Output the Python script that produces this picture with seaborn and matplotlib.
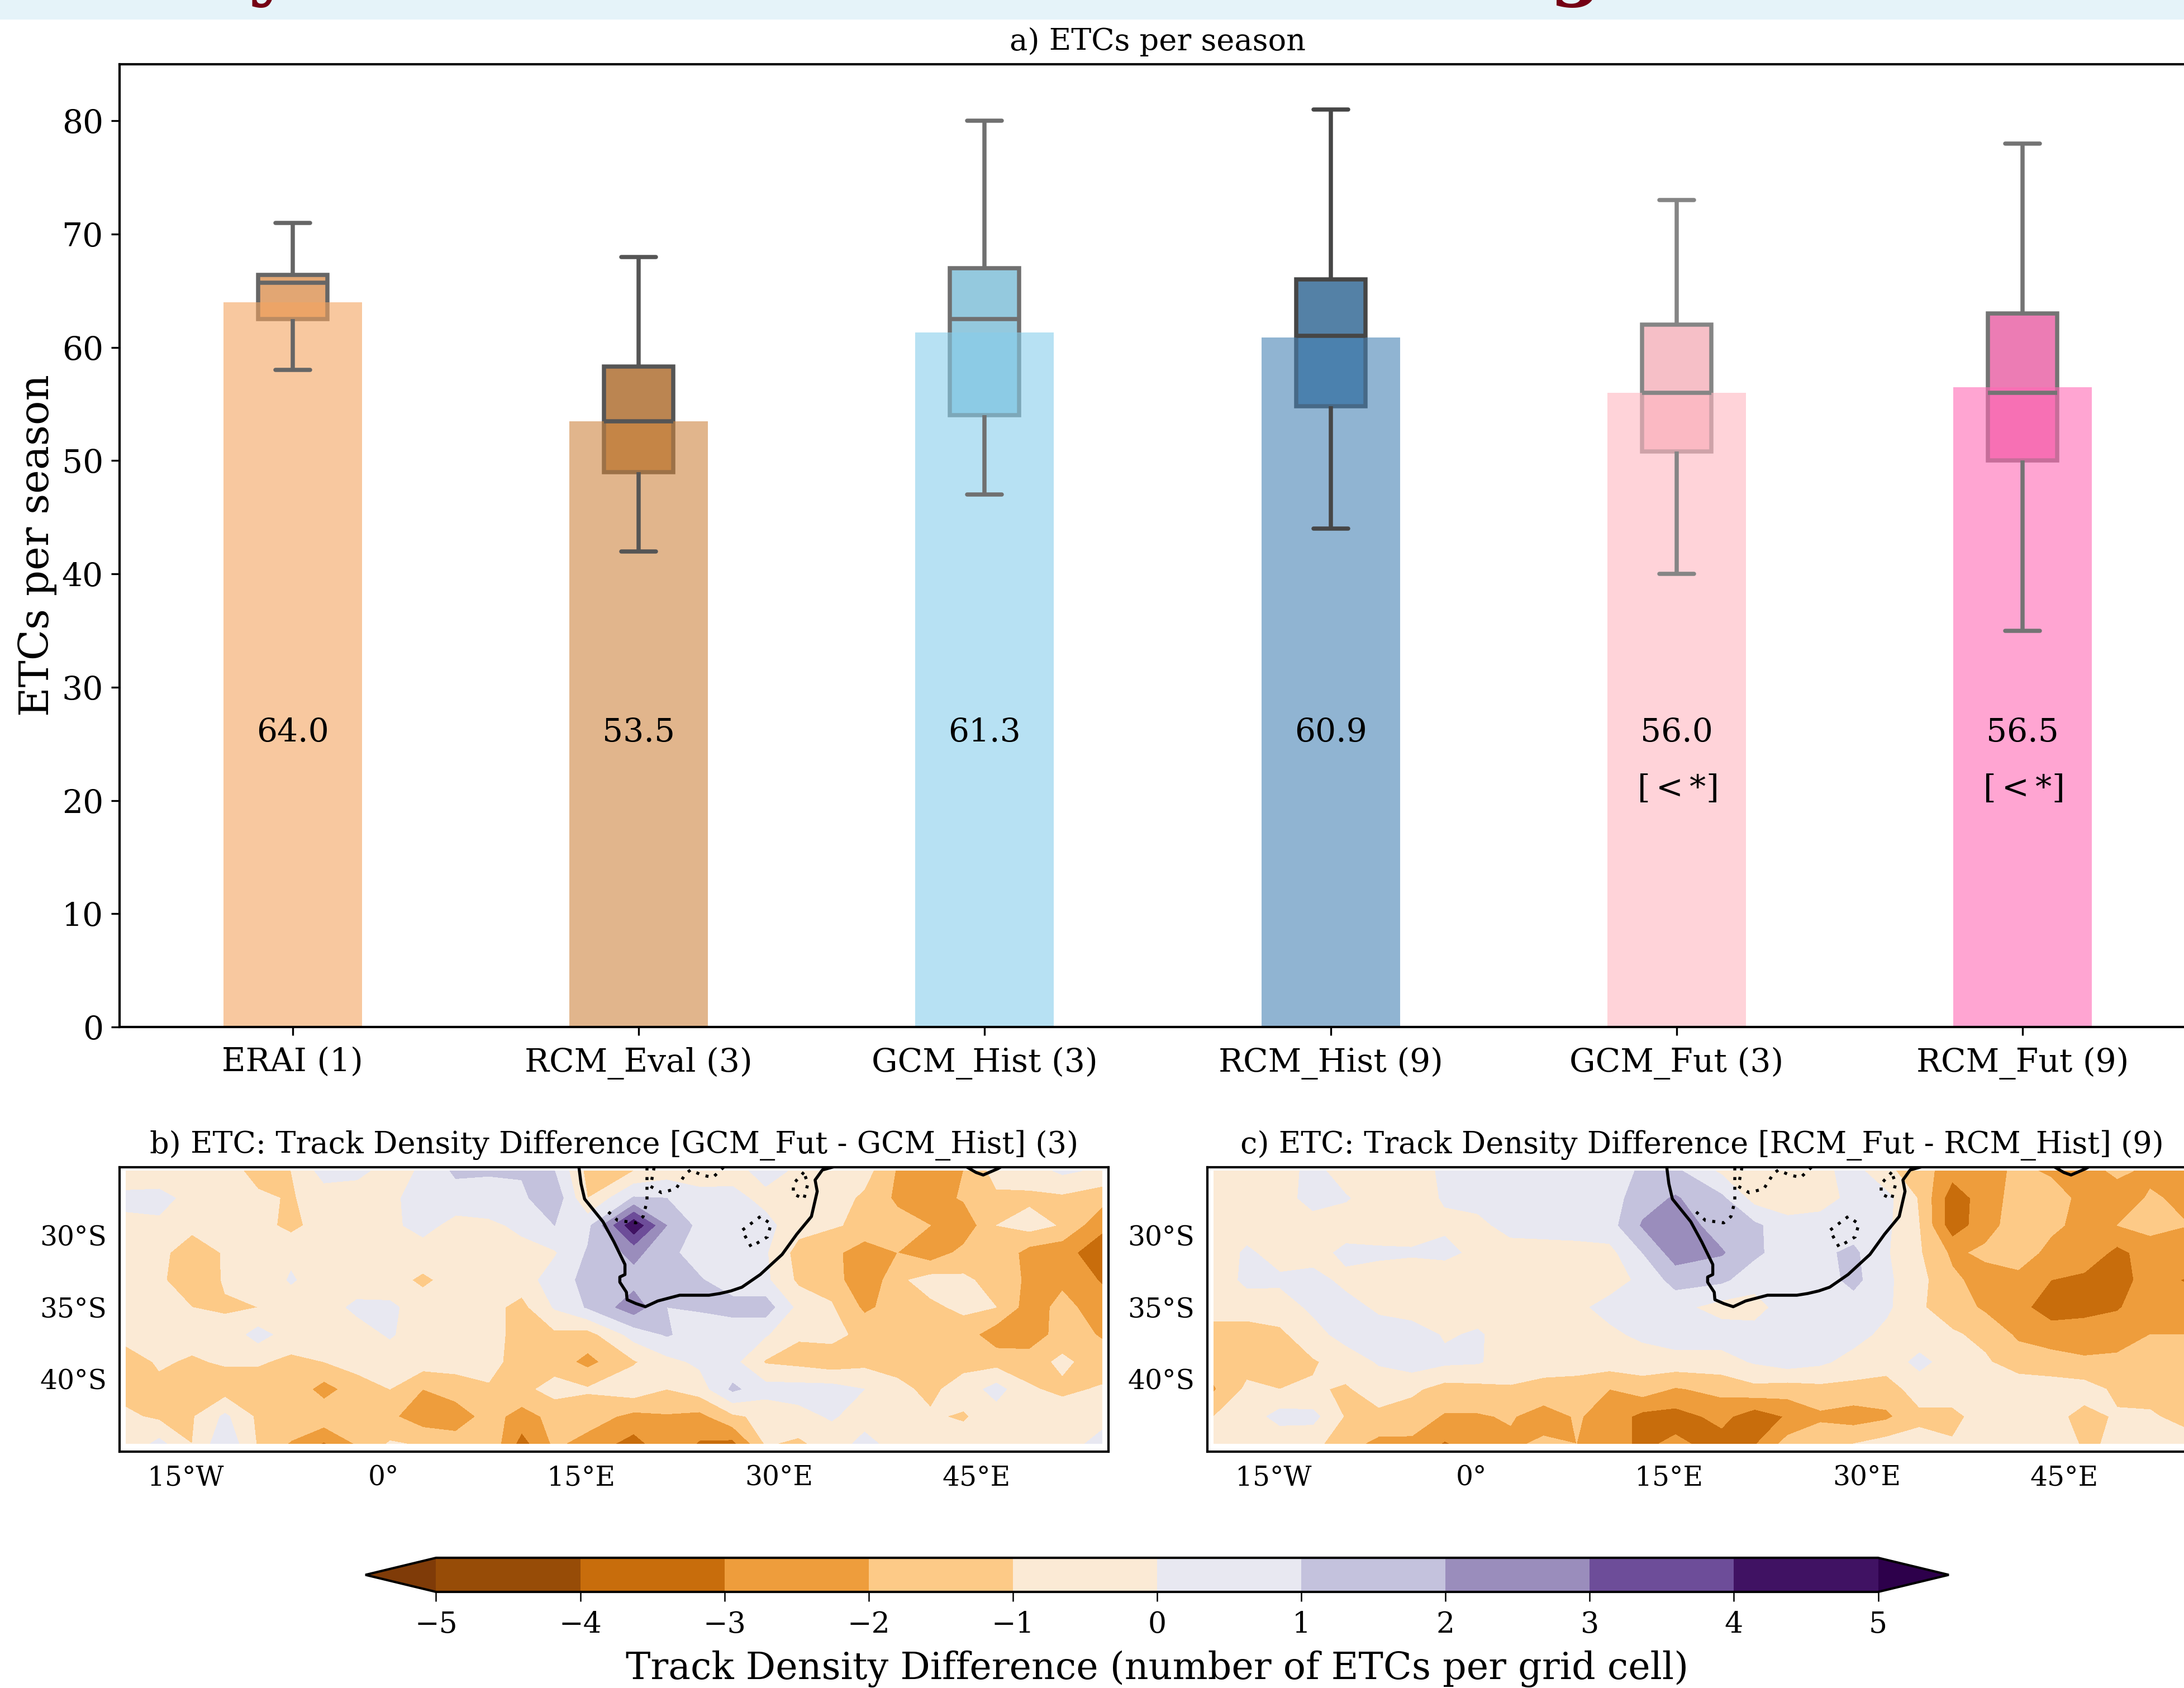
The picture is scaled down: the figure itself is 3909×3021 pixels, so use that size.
import numpy as np
import pandas as pd
import seaborn as sns
import matplotlib.pyplot as plt
from matplotlib.patches import Rectangle

# bar + box panel
runs = ['ERAI (1)', 'RCM_Eval (3)', 'GCM_Hist (3)', 'RCM_Hist (9)', 'GCM_Fut (3)', 'RCM_Fut (9)']
means = [64.0, 53.5, 61.3, 60.9, 56.0, 56.5]
mean_labels = ['64.0', '53.5', '61.3', '60.9', '56.0', '56.5']
sig_labels = ['', '', '', '', '[$<$*]', '[$<$*]']
run_colors = ['sandybrown', 'peru', 'skyblue', 'steelblue', 'lightpink', 'hotpink']
box_edges = ['#666666', '#555555', '#707070', '#464646', '#858585', '#747474']

# min, q1, median, q3, max
erai_box = [58, 62.5, 65.7, 66.4, 71]
rcm_eval_box = [42, 49, 53.5, 58.3, 68]
gcm_hist_box = [47, 54, 62.5, 67, 80]
rcm_hist_box = [44, 54.8, 61, 66, 81]
gcm_fut_box = [40, 50.8, 56, 62, 73]
rcm_fut_box = [35, 50, 56, 63, 78]
box_values = [erai_box, rcm_eval_box, gcm_hist_box, rcm_hist_box, gcm_fut_box, rcm_fut_box]

# map panels, values
lons = [-19.5, -17, -14.5, -12, -9.5, -7, -4.5, -2, 0.5, 3, 5.5, 8, 10.5, 13, 15.5,
        19, 21.5, 24, 26.5, 29, 31.5, 34, 36.5, 39, 41.5, 44, 46.5, 49, 51.5, 54.5]
lats = [-25.5, -27.4, -29.3, -31.2, -33.1, -35.0, -36.9, -38.8, -40.7, -42.6, -44.5]

gcm_diff = np.array([
    [-0.5, -1.0, -0.5, -0.5, -1.4, -1.0, 0.4, 0.2, -0.3, 0.1, 1.2, 1.1, 1.1, 1.0, -1.3, -1.0, -0.5, -0.6, -0.4, 0.4, -0.2, -0.5, -0.6, -2.1, -2.8, -2.0, -0.6, -0.5, 0.2, -0.2],
    [0.2, 0.5, -0.5, -0.6, -0.8, -1.1, -0.5, -0.4, -0.2, 0.4, 0.5, 0.6, 0.8, 1.7, -1.0, 1.1, 1.0, 0.4, 0.3, -0.3, -0.5, -0.5, -1.2, -2.2, -2.4, -1.9, -1.2, -1.2, -1.2, -1.6],
    [-0.2, -0.3, -0.7, -0.6, -0.6, -1.3, -0.5, -0.5, -0.2, 0.3, -0.3, -0.2, 0.2, 1.0, 0.7, 4.8, 2.0, 0.7, 0.5, 0.3, -0.6, -0.9, -1.2, -1.6, -2.0, -2.7, -1.0, -0.6, -1.1, -2.8],
    [-0.6, -0.7, -1.6, -0.9, -0.6, -0.2, -0.5, -0.5, -0.5, -0.4, -0.5, -0.5, -0.3, -0.1, 1.1, 2.3, 1.3, 0.5, 0.4, 0.1, -1.4, -1.7, -2.6, -2.0, -2.6, -1.7, -1.2, -2.4, -2.7, -3.5],
    [-0.6, -0.8, -1.7, -0.9, -0.7, 0.1, -0.5, -0.5, -0.6, -1.2, -0.6, -0.5, -0.5, 0.5, 1.3, 1.6, 1.1, 1.1, 0.4, 0.2, -1.2, -1.4, -3.0, -1.2, -0.6, -0.8, -1.4, -2.2, -2.2, -3.1],
    [-0.6, -0.8, -1.0, -1.1, -1.0, -0.5, -0.4, 0.2, 0.2, -0.5, -0.5, -0.7, -1.3, 0.1, 1.1, 2.6, 1.0, 1.1, 1.4, 1.5, -0.3, -0.9, -2.2, -1.6, -1.2, -0.8, -1.0, -2.5, -1.7, -2.5],
    [-0.7, -0.5, -0.7, -0.7, 0.4, -0.5, -0.5, -0.4, 0.1, -0.5, -0.6, -0.7, -1.3, -1.2, -1.4, 0.4, 1.1, 0.5, 0.3, 0.1, -0.9, -0.7, -1.3, -1.6, -1.4, -1.5, -2.6, -2.7, -1.5, -2.1],
    [-1.4, -0.9, -1.1, -0.9, -0.9, -1.2, -1.0, -0.6, -0.5, -0.5, -0.6, -0.7, -1.4, -1.5, -2.3, -1.1, -0.3, 0.2, 0.3, -1.1, -1.3, -1.6, -1.3, -1.3, -1.4, -1.3, -1.4, -1.4, -0.8, -1.5],
    [-1.4, -1.2, -1.7, -1.5, -1.5, -1.3, -2.4, -1.5, -1.0, -2.0, -1.5, -1.1, -1.3, -0.6, -0.9, -0.4, -1.0, -0.5, 1.2, 0.4, 0.4, 0.4, 0.0, -0.8, -1.2, -0.6, 0.4, -0.9, -1.2, -0.9],
    [-0.8, -1.2, -1.1, 0.2, -1.2, -1.2, -1.3, -1.5, -1.8, -2.6, -2.6, -1.6, -2.4, -1.7, -1.5, -2.3, -2.1, -2.3, -1.2, -0.7, -0.3, 0.1, -0.4, -0.6, -0.9, -1.1, -0.5, -0.4, -0.5, -0.3],
    [-0.8, 0.3, -1.0, 0.8, -1.1, -2.1, -3.1, -1.9, -0.9, -1.1, -1.5, -1.2, -3.4, -1.8, -2.4, -3.4, -2.3, -3.1, -3.3, -0.9, -1.2, -0.5, 0.3, -0.4, -0.5, -0.6, -0.5, -0.5, -0.4, 0.3],
])

rcm_diff = np.array([
    [-0.7, -0.7, -0.6, 0.4, -0.6, -0.5, -0.5, 0.2, 0.4, 0.5, 0.5, 0.4, 0.0, 1.3, 1.2, -0.2, -0.5, -0.8, -0.3, 0.4, -0.8, -1.5, -2.6, -2.6, -1.7, -2.2, -2.4, -1.8, -2.2, -2.4],
    [-0.7, -0.7, -0.7, 0.6, 0.1, -0.6, -0.5, 0.1, 0.4, 0.5, 0.9, 0.4, 0.5, 1.6, 2.1, 1.2, -0.4, -0.7, -0.6, 0.4, 0.3, -1.1, -3.6, -2.5, -1.6, -1.4, -2.4, -2.5, -1.9, -2.2],
    [-0.7, -0.6, -0.7, -0.7, -0.6, -0.6, -0.4, -0.2, -0.3, 0.4, 0.5, 0.5, 0.6, 2.1, 2.6, 1.5, 1.2, 0.4, 0.6, 0.5, 0.2, -1.0, -3.6, -2.4, -1.5, -1.8, -2.3, -2.0, -1.7, -2.0],
    [-0.8, 0.2, -0.5, -0.5, 0.3, 0.2, 0.1, 0.3, -0.3, -0.5, -0.5, -0.4, -0.3, 1.0, 2.5, 2.1, 1.2, 0.5, 0.8, 1.2, 0.1, -0.9, -2.2, -1.8, -1.5, -2.3, -2.2, -3.3, -2.5, -2.2],
    [-0.8, 0.3, 0.2, 0.4, -0.3, -0.5, -0.5, -0.8, -0.5, -0.5, -0.5, -0.5, -0.4, 0.2, 1.4, 1.2, 0.4, 0.4, 0.5, 1.3, 0.2, -0.7, -1.8, -2.4, -2.3, -3.0, -3.3, -3.3, -2.7, -3.1],
    [-0.8, -0.7, -0.5, 0.2, 0.4, -0.2, -0.5, -0.5, -0.4, -0.4, -0.2, -0.2, 0.3, 0.4, 0.3, -0.4, -0.4, 0.5, 0.5, 0.5, 0.2, -0.9, -1.4, -2.2, -2.7, -3.5, -3.2, -3.1, -2.4, -2.6],
    [-1.2, -1.3, -1.2, -0.4, 0.4, 0.5, 0.5, -0.1, 0.1, -0.4, -0.4, -0.4, -0.2, 0.2, 0.5, 0.5, 0.4, 0.4, 0.5, 0.4, -0.3, -0.6, -0.9, -1.2, -2.2, -2.5, -2.7, -2.4, -2.0, -2.0],
    [-1.5, -1.4, -1.4, -1.1, -0.6, 0.1, 0.5, 0.2, 0.1, -0.5, -0.6, -0.6, -0.5, -0.5, -0.4, -0.4, 0.1, 0.5, 0.2, -0.4, -0.6, 0.3, -0.5, -0.9, -1.4, -1.6, -1.8, -1.8, -1.6, -1.6],
    [-2.1, -0.8, -1.0, -0.9, -1.1, -0.6, -0.8, -1.4, -1.3, -1.1, -1.3, -1.4, -2.0, -1.5, -2.1, -1.7, -1.3, -1.5, -1.3, -1.3, -1.4, -0.6, -0.4, -0.5, -0.5, -0.5, -0.6, -1.2, -1.3, -1.2],
    [-1.0, -0.6, 0.4, 0.3, -1.1, -1.2, -1.5, -2.1, -2.1, -1.9, -2.5, -1.9, -2.4, -3.3, -3.4, -2.7, -3.6, -2.9, -2.2, -2.5, -2.2, -1.2, -1.3, -0.5, -0.6, -0.7, -1.3, -0.9, -0.9, -1.3],
    [-0.7, -0.6, -0.8, -0.7, -1.6, -2.3, -2.2, -3.1, -2.5, -2.2, -1.8, -2.0, -2.6, -3.2, -2.8, -3.4, -3.1, -1.6, -1.3, -1.0, -0.6, -0.7, -0.9, -0.5, -0.6, -0.5, -1.1, -0.9, -0.6, -0.7],
])

levels = [-5, -4, -3, -2, -1, 0, 1, 2, 3, 4, 5]
level_colors = ['#974c07', '#c86d0c', '#ee9d3c', '#fdca87', '#fbead5',
                '#e8e8f1', '#c4c2dd', '#9a8dbc', '#6d4d99', '#401263']
under_color = '#7f3b08'
over_color = '#2d004b'

# southern Africa outlines
coast_lon = [14.8, 14.83, 15.0, 15.27, 16.66, 17.49, 18.33, 18.33, 17.94, 17.94, 18.44, 18.49, 19.16, 19.88, 20.82,
             22.48, 24.7, 25.53, 26.37, 27.2, 28.59, 30.25, 31.36, 32.47, 32.91, 32.75, 33.3, 34.13, 35.0]
coast_lat = [-25.0, -25.18, -26.4, -27.46, -29.04, -30.44, -32.02, -32.72, -32.89, -33.25, -33.95, -34.47, -34.74,
             -34.96, -34.56, -34.16, -34.16, -34.04, -33.86, -33.6, -32.72, -31.32, -29.91, -28.68, -26.93, -26.14,
             -25.44, -25.23, -25.0]
madagascar_lon = [44.0, 44.95, 45.5, 46.61, 47.1]
madagascar_lat = [-25.1, -25.61, -25.79, -25.35, -25.1]
border_lons = [[20.0, 20.0, 19.71, 19.16, 17.77, 16.94],
               [20.54, 20.27, 21.1, 22.2, 22.93, 23.3, 24.15, 25.0, 25.8],
               [31.9, 31.1, 31.1, 31.9, 32.2, 31.9],
               [28.6, 27.2, 27.9, 29.14, 29.4, 28.6]]
border_lats = [[-25.26, -27.63, -28.68, -29.12, -28.95, -28.25],
               [-25.26, -26.58, -27.02, -26.75, -25.7, -25.44, -25.79, -25.96, -25.26],
               [-25.6, -26.4, -27.1, -27.46, -26.4, -25.6],
               [-28.68, -29.65, -30.79, -30.09, -29.2, -28.68]]

lon_ticks = [-15, 0, 15, 30, 45]
lon_labels = ['15°W', '0°', '15°E', '30°E', '45°E']
lat_ticks = [-30, -35, -40]
lat_labels = ['30°S', '35°S', '40°S']

sns.set_theme(style='ticks', rc={'xtick.major.size': 3.5, 'ytick.major.size': 3.5, 'axes.linewidth': 1.0,
                                 'xtick.major.width': 0.8, 'ytick.major.width': 0.8,
                                 'text.color': 'black', 'axes.labelcolor': 'black',
                                 'xtick.color': 'black', 'ytick.color': 'black', 'axes.edgecolor': 'black'})
plt.rcParams['font.family'] = ['DejaVu Serif']
plt.rcParams['mathtext.fontset'] = 'dejavuserif'

W, H = 3909, 3021


def place(left, top, right, bottom):
    # pixel box to figure fractions
    return [left / W, 1 - bottom / H, (right - left) / W, (bottom - top) / H]


fig = plt.figure(figsize=(W / 300, H / 300), dpi=300, facecolor='white')

# what is left of the poster banner above the figure
fig.add_artist(Rectangle((0, 1 - 35 / H), 1, 35 / H, transform=fig.transFigure, facecolor='#e5f3f9', edgecolor='none'))
fig.text(484 / W, 1 + 16 / H, 'y', color='#750014', fontsize=32, fontweight='bold', ha='center', va='baseline')
fig.text(2820 / W, 1 + 16 / H, 'g', color='#750014', fontsize=32, fontweight='bold', ha='center', va='baseline')

ax = fig.add_axes(place(214, 115, 3930, 1838))

bar_df = pd.DataFrame({'run': runs, 'mean': means})
box_df = pd.DataFrame({'run': np.repeat(runs, 5), 'etcs': np.ravel(box_values)})

for run, color, edge in zip(runs, run_colors, box_edges):
    sns.boxplot(data=box_df[box_df['run'] == run], x='run', y='etcs', order=runs, color=color, linecolor=edge,
                width=0.2, whis=(0, 100), linewidth=1.8, ax=ax)
# box faces sit under the bars, whiskers and medians on top of them
for line in ax.lines:
    line.set_zorder(3)
sns.barplot(data=bar_df, x='run', y='mean', order=runs, hue='run', hue_order=runs, palette=run_colors,
            width=0.4, alpha=0.6, saturation=1, legend=False, zorder=2.2, linewidth=0, ax=ax)

for i in range(len(runs)):
    ax.text(i, 26, mean_labels[i], ha='center', va='center', fontsize=14, zorder=6)
    if sig_labels[i]:
        ax.text(i, 21, sig_labels[i], ha='center', va='center', fontsize=14, zorder=6)

ax.set_xlim(-0.5, 5.5)
ax.set_ylim(0, 85)
ax.set_yticks(range(0, 81, 10))
ax.tick_params(axis='both', labelsize=14)
ax.tick_params(axis='x', pad=5)
ax.set_xlabel('')
ax.set_ylabel('ETCs per season', fontsize=17.3, labelpad=2)
ax.set_title('a) ETCs per season', fontsize=13, pad=6)


def draw_map(axm, values, title):
    cf = axm.contourf(lons, lats, values, levels=levels, colors=level_colors, extend='both')
    cf.cmap.set_under(under_color)
    cf.cmap.set_over(over_color)
    cf.changed()
    axm.plot(coast_lon, coast_lat, color='black', lw=1.3)
    axm.plot(madagascar_lon, madagascar_lat, color='black', lw=1.3)
    for bx, by in zip(border_lons, border_lats):
        axm.plot(bx, by, color='black', lw=1.3, ls=(0, (1, 2.2)))
    axm.set_xlim(-20, 55)
    axm.set_ylim(-45.05, -25.25)
    axm.set_xticks(lon_ticks, lon_labels)
    axm.set_yticks(lat_ticks, lat_labels)
    axm.tick_params(length=0, labelsize=11.7, pad=5.4)
    axm.tick_params(axis='x', pad=5.6)
    axm.set_title(title, fontsize=13, pad=6)
    return cf


ax_b = fig.add_axes(place(214, 2089, 1984, 2598))
ax_c = fig.add_axes(place(2161, 2089, 3931, 2598))
cf_b = draw_map(ax_b, gcm_diff, 'b) ETC: Track Density Difference [GCM_Fut - GCM_Hist] (3)')
draw_map(ax_c, rcm_diff, 'c) ETC: Track Density Difference [RCM_Fut - RCM_Hist] (9)')

cax = fig.add_axes(place(654, 2788, 3488, 2849))
cbar = fig.colorbar(cf_b, cax=cax, orientation='horizontal', ticks=levels, extendfrac=0.049)
cbar.ax.tick_params(labelsize=12.5, length=4, width=0.6, pad=4)
cbar.set_label('Track Density Difference (number of ETCs per grid cell)', fontsize=16, labelpad=5)

fig.savefig('out.png', dpi=300)
